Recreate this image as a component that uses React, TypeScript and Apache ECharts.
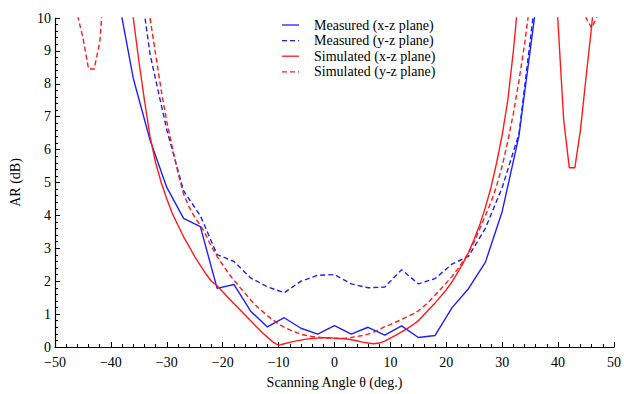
import React, { useEffect, useRef } from "react";
import * as echarts from "echarts";

// Measured data (3° steps)
const measAngles = [-39, -36, -33, -30, -27, -24, -21, -18, -15, -12, -9, -6, -3, 0, 3, 6, 9, 12, 15, 18, 21, 24, 27, 30, 33, 36];
const measXZ = [10.9, 8.17, 6.29, 4.85, 3.91, 3.66, 1.78, 1.9, 1.09, 0.61, 0.89, 0.57, 0.39, 0.65, 0.39, 0.6, 0.36, 0.64, 0.29, 0.35, 1.19, 1.78, 2.58, 4.12, 6.42, 10.3];
const measYZ = [16, 12.6, 8.9, 6.6, 4.75, 3.99, 2.81, 2.6, 2.1, 1.83, 1.65, 2.0, 2.18, 2.2, 1.92, 1.8, 1.82, 2.35, 1.92, 2.08, 2.52, 2.76, 3.61, 4.85, 6.48, 10.7];

// Simulated data (1° steps)
const simAngles = [
  -47, -46, -45, -44, -43, -42, -41, -40, -39, -38, -37, -36, -35, -34, -33, -32, -31, -30, -29, -28,
  -27, -26, -25, -24, -23, -22, -21, -20, -19, -18, -17, -16, -15, -14, -13, -12, -11, -10, -9, -8,
  -7, -6, -5, -4, -3, -2, -1, 0, 1, 2, 3, 4, 5, 6, 7, 8, 9, 10, 11, 12,
  13, 14, 15, 16, 17, 18, 19, 20, 21, 22, 23, 24, 25, 26, 27, 28, 29, 30, 31, 32,
  33, 34, 35, 36, 37, 38, 39, 40, 41, 42, 43, 44, 45, 46, 47,
];
const simXZ = [
  null, null, null, null, null, null, null, null, null, null, 11.3, 10.0, 8.7, 7.5, 6.4, 5.6, 5.0, 4.5, 4.05, 3.7,
  3.35, 3.05, 2.75, 2.48, 2.22, 2.0, 1.86, 1.68, 1.5, 1.32, 1.15, 0.97, 0.8, 0.62, 0.45, 0.3, 0.15, 0.05, 0.1, 0.14,
  0.18, 0.21, 0.24, 0.26, 0.27, 0.28, 0.28, 0.27, 0.26, 0.25, 0.22, 0.19, 0.15, 0.12, 0.1, 0.12, 0.18, 0.27, 0.36, 0.46,
  0.56, 0.67, 0.8, 0.98, 1.16, 1.34, 1.54, 1.74, 1.97, 2.25, 2.55, 2.88, 3.28, 3.72, 4.25, 4.85, 5.6, 6.45, 7.5, 9.0,
  10.8, null, null, null, null, null, 13, 9.8, 6.9, 5.45, 5.45, 6.6, 8.2, 9.75, 11.5,
];
const simYZ = [
  12.5, 10.1, 9.4, 8.45, 8.45, 9.25, 11.5, null, null, null, null, null, null, 11.2, 10.0, 8.9, 7.8, 6.85, 6.05, 5.3,
  4.65, 4.25, 3.95, 3.7, 3.4, 3.05, 2.75, 2.5, 2.25, 2.03, 1.83, 1.63, 1.43, 1.25, 1.1, 0.95, 0.82, 0.7, 0.6, 0.52,
  0.45, 0.39, 0.35, 0.32, 0.3, 0.28, 0.27, 0.26, 0.26, 0.27, 0.29, 0.32, 0.35, 0.39, 0.45, 0.53, 0.62, 0.68, 0.76, 0.84,
  0.92, 1.0, 1.1, 1.24, 1.4, 1.58, 1.76, 1.95, 2.14, 2.36, 2.6, 2.87, 3.2, 3.6, 4.0, 4.4, 4.9, 5.5, 6.25, 7.1,
  8.1, 9.2, 10.5, null, null, null, null, null, null, null, null, 11.5, 10.0, 9.7, 10.05,
];

const seriesNames = ["Measured (x-z plane)", "Measured (y-z plane)", "Simulated (x-z plane)", "Simulated (y-z plane)"];

const BLUE = "#1e1eff";
const RED = "#ff1a1a";
const FONT = "Liberation Serif";
const DASH = [5, 3];

const pairs = (xs: number[], ys: (number | null)[]) => xs.map((x, i) => [x, ys[i]]);
const minus = (v: number) => String(v).replace("-", "\u2212");

const legendStyles = [
  { color: BLUE, dash: null },
  { color: BLUE, dash: DASH },
  { color: RED, dash: null },
  { color: RED, dash: DASH },
];

export default function App() {
  const ref = useRef<HTMLDivElement>(null);
  useEffect(() => {
    if (!ref.current) return;
    const chart = echarts.init(ref.current, undefined, { renderer: "svg" });
    const axisCommon = {
      axisTick: { inside: true, length: 5, lineStyle: { color: "#000" } },
      minorTick: { show: true, splitNumber: 5, length: 3, lineStyle: { color: "#000" } },
      splitLine: { show: false },
      nameTextStyle: { color: "#000", fontFamily: FONT, fontSize: 14 },
    };
    const legendGraphics: any[] = [];
    seriesNames.forEach((name, i) => {
      const y = 25 + i * 15.6;
      legendGraphics.push({
        type: "line",
        shape: { x1: 282, y1: y, x2: 299, y2: y },
        style: { stroke: legendStyles[i].color, lineWidth: 1.3, lineDash: legendStyles[i].dash || undefined },
      });
      legendGraphics.push({
        type: "text",
        x: 314,
        y,
        style: { text: name, fill: "#000", font: `14px "${FONT}"`, verticalAlign: "middle", align: "left" },
      });
    });
    chart.setOption({
      animation: false,
      backgroundColor: "#fff",
      grid: { left: 50, right: 5, top: 18, bottom: 39 },
      graphic: legendGraphics,
      xAxis: {
        type: "value",
        min: -50,
        max: 50,
        interval: 10,
        name: "Scanning Angle \u03b8 (deg.)",
        nameLocation: "middle",
        nameGap: 28,
        ...axisCommon,
        axisLine: { onZero: false, lineStyle: { color: "#000", width: 1.2 } },
        axisLabel: { color: "#000", fontFamily: FONT, fontSize: 14, margin: 8, formatter: minus },
      },
      yAxis: {
        type: "value",
        min: 0,
        max: 10,
        interval: 1,
        name: "AR (dB)",
        nameLocation: "middle",
        nameGap: 33,
        ...axisCommon,
        axisLine: { onZero: false, lineStyle: { color: "#000", width: 1.2 } },
        axisLabel: { color: "#000", fontFamily: FONT, fontSize: 14, margin: 4 },
      },
      series: [
        {
          name: seriesNames[0],
          type: "line",
          symbol: "none",
          data: pairs(measAngles, measXZ),
          lineStyle: { color: BLUE, width: 1.4 },
        },
        {
          name: seriesNames[1],
          type: "line",
          symbol: "none",
          data: pairs(measAngles, measYZ),
          lineStyle: { color: BLUE, width: 1.4, type: DASH },
        },
        {
          name: seriesNames[2],
          type: "line",
          symbol: "none",
          data: pairs(simAngles, simXZ),
          lineStyle: { color: RED, width: 1.4 },
        },
        {
          name: seriesNames[3],
          type: "line",
          symbol: "none",
          data: pairs(simAngles, simYZ),
          lineStyle: { color: RED, width: 1.4, type: DASH },
        },
      ],
    });
    return () => chart.dispose();
  }, []);
  return <div ref={ref} style={{ position: "fixed", left: 0, top: 0, width: 624, height: 394 }} />;
}
